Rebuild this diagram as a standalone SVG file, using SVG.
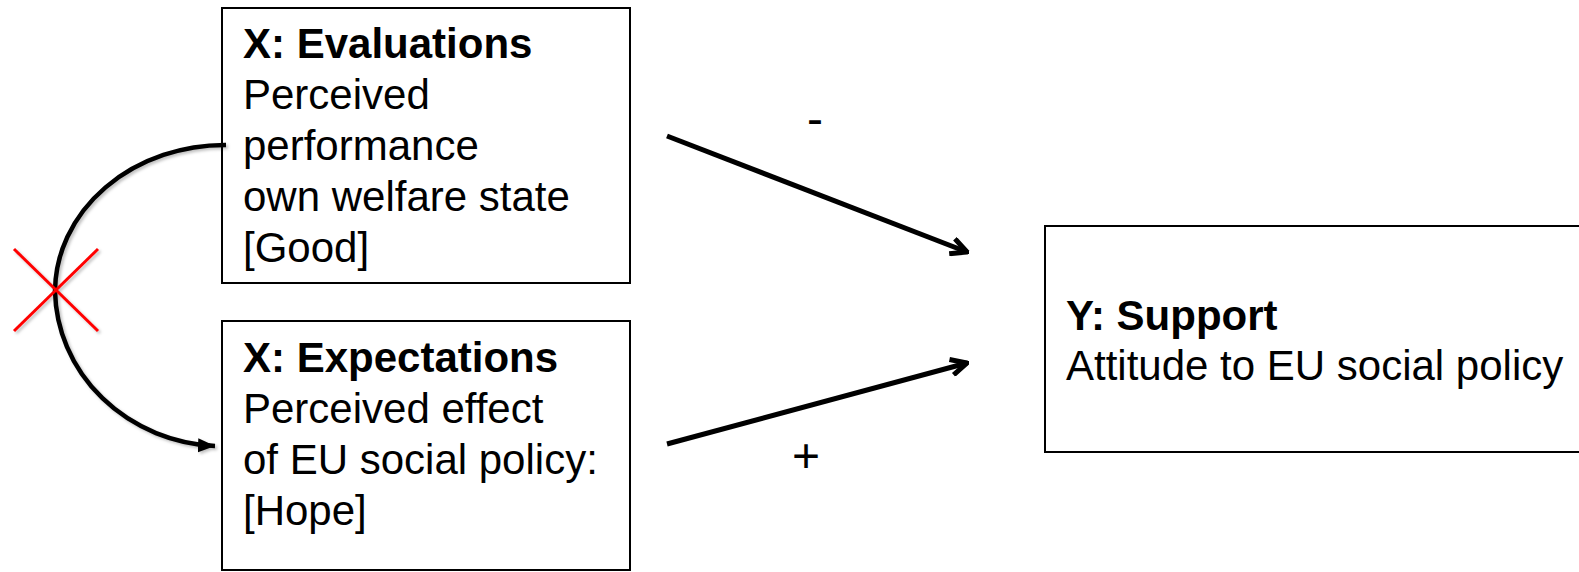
<svg xmlns="http://www.w3.org/2000/svg" width="1579" height="572" viewBox="0 0 1579 572">
<style>
  .box { fill: #ffffff; stroke: #000000; stroke-width: 2; }
  .t { font-family: "Liberation Sans", Arial, sans-serif; font-size: 42px; fill: #000000; }
  .b { font-weight: bold; }
  .conn { fill: none; stroke: #000000; stroke-width: 5; stroke-linecap: butt; }
  .arc { fill: none; stroke: #000000; stroke-width: 4.5; }
  .cross { stroke: #ff0000; stroke-width: 3; }
  .sign { font-family: "Liberation Sans", Arial, sans-serif; font-size: 48px; fill: #000000; text-anchor: middle; }
</style>
<defs>
  <marker id="open" viewBox="0 0 20 20" refX="18" refY="10" markerWidth="20" markerHeight="20" markerUnits="userSpaceOnUse" orient="auto">
    <path d="M2,2 L18,10 L2,18" fill="none" stroke="#000" stroke-width="5"/>
  </marker>
  <marker id="solid" viewBox="0 0 18 16" refX="17" refY="8" markerWidth="18" markerHeight="16" markerUnits="userSpaceOnUse" orient="auto">
    <path d="M0,1 L17,8 L0,15 Z" fill="#000"/>
  </marker>
  <filter id="sh" x="-20%" y="-20%" width="140%" height="140%">
    <feDropShadow dx="2" dy="2" stdDeviation="1.5" flood-color="#000" flood-opacity="0.25"/>
  </filter>
</defs>
<rect width="1579" height="572" fill="#ffffff"/>

<g id="evaluations">
  <rect class="box" x="222" y="8" width="408" height="275"/>
  <text class="t b" x="243" y="58">X: Evaluations</text>
  <text class="t" x="243" y="109">Perceived</text>
  <text class="t" x="243" y="160">performance</text>
  <text class="t" x="243" y="211">own welfare state</text>
  <text class="t" x="243" y="262">[Good]</text>
</g>

<g id="expectations">
  <rect class="box" x="222" y="321" width="408" height="249"/>
  <text class="t b" x="243" y="372">X: Expectations</text>
  <text class="t" x="243" y="423">Perceived effect</text>
  <text class="t" x="243" y="474">of EU social policy:</text>
  <text class="t" x="243" y="525">[Hope]</text>
</g>

<g id="support">
  <rect class="box" x="1045" y="226" width="545" height="226"/>
  <text class="t b" x="1066" y="330">Y: Support</text>
  <text class="t" x="1066" y="380">Attitude to EU social policy</text>
</g>

<g id="connectors">
  <line class="conn" x1="667" y1="136" x2="967" y2="252" marker-end="url(#open)"/>
  <line class="conn" x1="667" y1="444" x2="967" y2="363" marker-end="url(#open)"/>
  <text class="sign" x="815" y="135">-</text>
  <text class="sign" x="806" y="472">+</text>
  <g filter="url(#sh)">
    <path class="arc" d="M226,145 A170,147 0 0 0 55,291 A168,158 0 0 0 215,446" marker-end="url(#solid)"/>
    <line class="cross" x1="14" y1="249" x2="98" y2="331"/>
    <line class="cross" x1="98" y1="249" x2="14" y2="331"/>
  </g>
</g>
</svg>
